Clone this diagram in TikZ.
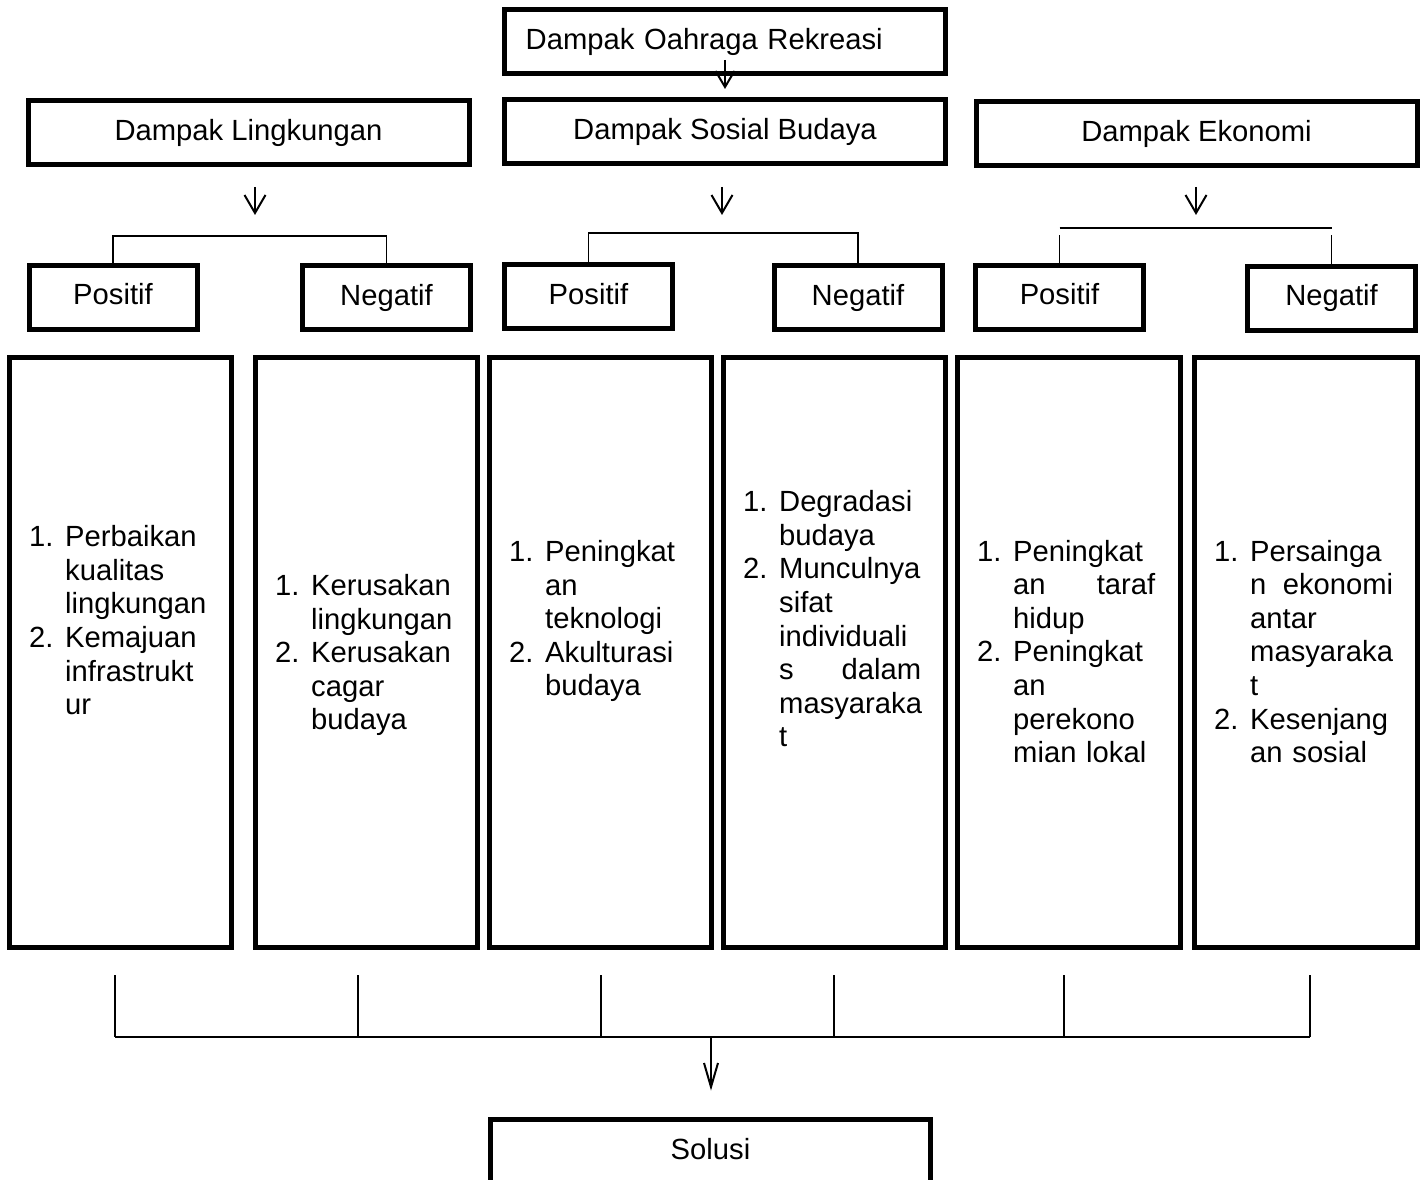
\documentclass[tikz,border=0pt]{standalone}
\usepackage{fontspec}
\setmainfont{Liberation Sans}
\usetikzlibrary{calc}
\newcommand\fsz{\fontsize{29.2pt}{33.6pt}\selectfont}
\newcommand\lstart[2]{\makebox[36pt][l]{#1}#2}
\newcommand\lcont[1]{\hspace*{36pt}#1}
\newcommand\ljust[3]{\hspace*{36pt}\makebox[#3][l]{#1\hfill#2}}
% open V arrow head at a named coordinate: #1 name, #2 half width, #3 length
\newcommand\vtipat[3]{\draw[arrline, line join=miter] ($(#1)+(-#2,-#3)$) -- (#1) -- ($(#1)+(#2,-#3)$);}
\begin{document}
\begin{tikzpicture}[x=1pt,y=-1pt,
  box/.style={draw, line width=5pt, inner sep=0pt, text height=21.3pt, text depth=6.2pt, font=\fsz},
  hbox/.style={box, minimum width=441pt, minimum height=64pt},
  pbox/.style={box, minimum width=168pt, minimum height=64pt},
  bigbox/.style={draw, line width=5pt, minimum width=222.5pt, minimum height=590pt, inner sep=0pt},
  listtxt/.style={inner sep=0pt, anchor=base west, text width=200pt, align=left, font=\fsz},
  link/.style={line width=1.5pt},
  arrline/.style={line width=2pt}]
\useasboundingbox (0,0) rectangle (1425,1180);

% header boxes
\node[hbox, text width=398.6pt, align=left, inner xsep=21.2pt] (top) at (725,41.5) {Dampak Oahraga Rekreasi};
\node[hbox] (env) at (248.5,132.5) {Dampak Lingkungan};
\node[hbox] (soc) at (725,132) {Dampak Sosial Budaya};
\node[hbox] (eco) at (1196.5,133.5) {Dampak Ekonomi};

% positif / negatif
\node[pbox] (lp) at (113,297) {Positif};
\node[pbox] (ln) at (386.5,297.5) {Negatif};
\node[pbox] (mp) at (588.5,296.5) {Positif};
\node[pbox] (mn) at (858,297.5) {Negatif};
\node[pbox] (rp) at (1059.5,297) {Positif};
\node[pbox] (rn) at (1331.5,298) {Negatif};

% big boxes
\node[bigbox] (b1) at (120.5,652.5) {};
\node[bigbox] (b2) at (366.5,652.5) {};
\node[bigbox] (b3) at (600.5,652.5) {};
\node[bigbox] (b4) at (834.5,652.5) {};
\node[bigbox] (b5) at (1069,652.5) {};
\node[bigbox] (b6) at (1306,652.5) {};

% list texts
\node[listtxt] (t1) at (29,546.7) {\lstart{1.}{Perbaikan}\\\lcont{kualitas}\\\lcont{lingkungan}\\\lstart{2.}{Kemajuan}\\\lcont{infrastrukt}\\\lcont{ur}};
\node[listtxt] (t2) at (275,595.5) {\lstart{1.}{Kerusakan}\\\lcont{lingkungan}\\\lstart{2.}{Kerusakan}\\\lcont{cagar}\\\lcont{budaya}};
\node[listtxt] (t3) at (509,561.5) {\lstart{1.}{Peningkat}\\\lcont{an}\\\lcont{teknologi}\\\lstart{2.}{Akulturasi}\\\lcont{budaya}};
\node[listtxt] (t4) at (743,511.7) {\lstart{1.}{Degradasi}\\\lcont{budaya}\\\lstart{2.}{Munculnya}\\\lcont{sifat}\\\lcont{individuali}\\\ljust{s}{dalam}{142pt}\\\lcont{masyaraka}\\\lcont{t}};
\node[listtxt] (t5) at (977,561) {\lstart{1.}{Peningkat}\\\ljust{an}{taraf}{142pt}\\\lcont{hidup}\\\lstart{2.}{Peningkat}\\\lcont{an}\\\lcont{perekono}\\\lcont{mian lokal}};
\node[listtxt] (t6) at (1214,561) {\lstart{1.}{Persainga}\\\ljust{n}{ekonomi}{143pt}\\\lcont{antar}\\\lcont{masyaraka}\\\lcont{t}\\\lstart{2.}{Kesenjang}\\\lcont{an sosial}};

% solusi
\node[box, minimum width=440pt, minimum height=65.5pt] (sol) at (710.5,1152.25) {Solusi};

% arrows under headers
\coordinate (a0s) at (725,60);   \coordinate (a0e) at (725,87);
\coordinate (a1s) at (255,187);  \coordinate (a1e) at (255,213);
\coordinate (a2s) at (722,187);  \coordinate (a2e) at (722,213);
\coordinate (a3s) at (1196,187); \coordinate (a3e) at (1196,213);
\draw[arrline] (a0s) -- (a0e); \vtipat{a0e}{9.5}{16}
\draw[arrline] (a1s) -- (a1e); \vtipat{a1e}{10.5}{18}
\draw[arrline] (a2s) -- (a2e); \vtipat{a2e}{10.5}{18}
\draw[arrline] (a3s) -- (a3e); \vtipat{a3e}{10.5}{18}

% brackets
\coordinate (lb) at (0,236);
\coordinate (mb) at (0,233);
\coordinate (rh) at (0,228);
\coordinate (rv) at (0,235);
\draw[link] (lp.north) |- (ln.north |- lb) -- (ln.north);
\draw[link] (mp.north) |- (mn.north |- mb) -- (mn.north);
\draw[link] (rp.north |- rh) -- (rn.north |- rh);
\draw[link] (rp.north) -- (rp.north |- rv);
\draw[link] (rn.north) -- (rn.north |- rv);

% bottom collector
\coordinate (v1t) at (115,975);  \coordinate (v1b) at (115,1037);
\coordinate (v2t) at (358,975);  \coordinate (v2b) at (358,1037);
\coordinate (v3t) at (601,975);  \coordinate (v3b) at (601,1037);
\coordinate (v4t) at (834,975);  \coordinate (v4b) at (834,1037);
\coordinate (v5t) at (1064,975); \coordinate (v5b) at (1064,1037);
\coordinate (v6t) at (1310,975); \coordinate (v6b) at (1310,1037);
\draw[link] (v1t) -- (v1b);
\draw[link] (v2t) -- (v2b);
\draw[link] (v3t) -- (v3b);
\draw[link] (v4t) -- (v4b);
\draw[link] (v5t) -- (v5b);
\draw[link] (v6t) -- (v6b);
\draw[link, line width=2pt] (v1b) -- (v6b);
\coordinate (hs) at (711,1037); \coordinate (he) at (711,1087);
\draw[link] (hs) -- (he); \vtipat{he}{7}{24}
\end{tikzpicture}
\end{document}
